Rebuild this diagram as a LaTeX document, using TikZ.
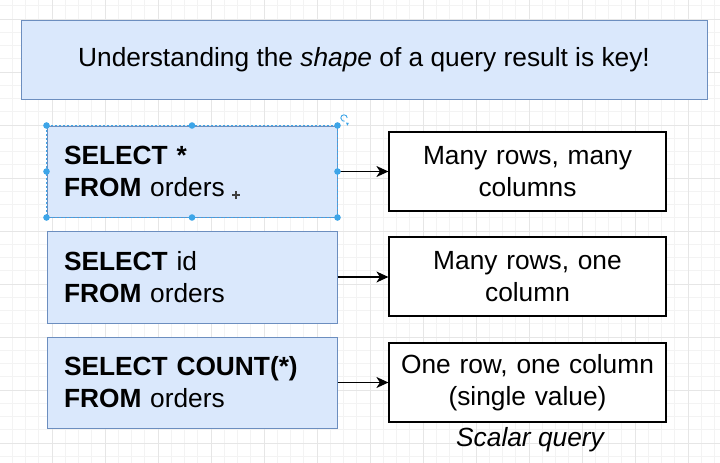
\documentclass[tikz,border=0pt]{standalone}
\usepackage{fontspec}
\setmainfont{Liberation Sans}
\usetikzlibrary{arrows.meta}
\definecolor{boxfill}{HTML}{DAE8FC}
\definecolor{boxline}{HTML}{6C8EBF}
\definecolor{handlecol}{HTML}{3DA5E8}
\definecolor{gridminor}{HTML}{F3F3F3}
\definecolor{gridmajor}{HTML}{E6E6E6}
\tikzset{
  bigtext/.style={font=\fontsize{26.3}{32}\selectfont},
  bluebox/.style={bigtext, draw=boxline, fill=boxfill, line width=1pt, inner sep=0pt},
  sqlbox/.style={bluebox, minimum width=290, minimum height=91, text width=256, inner xsep=17, align=left},
  resbox/.style={bigtext, draw=black, fill=white, line width=1.2pt, minimum width=277, minimum height=79, text width=270, inner xsep=3.5, align=center},
  arr/.style={draw=black, line width=1.2pt, -{Stealth[length=12pt,width=11pt,inset=3.5pt]}},
  handledot/.style={fill=handlecol}
}
\begin{document}
\begin{tikzpicture}[x=1pt,y=-1pt]
\useasboundingbox (0,0) rectangle (720,463);
\fill[white] (0,0) rectangle (720,463);
% grid
\foreach \i in {0,...,55} {
  \draw[gridminor, line width=0.6pt] ({-1+13.25*\i},0) -- ({-1+13.25*\i},463);
}
\foreach \i in {0,...,35} {
  \draw[gridminor, line width=0.6pt] (0,{-7.5+13.25*\i}) -- (720,{-7.5+13.25*\i});
}
\foreach \i in {0,...,14} {
  \draw[gridmajor, line width=0.8pt] ({-1+53*\i},0) -- ({-1+53*\i},463);
}
\foreach \i in {0,...,9} {
  \draw[gridmajor, line width=0.8pt] (0,{19+53*\i}) -- (720,{19+53*\i});
}
% title
\node[bluebox, minimum width=686, minimum height=79, align=center] (title) at (364,59.5)
  {Understanding the \textit{shape} of a query result is key!};
% sql boxes
\node[sqlbox] (s1) at (192,171.5) {\textbf{SELECT *}\\\textbf{FROM} orders};
\node[sqlbox, minimum height=92] (s2) at (192,277) {\textbf{SELECT} id\\\textbf{FROM} orders};
\node[sqlbox] (s3) at (192,382.5) {\textbf{SELECT COUNT(*)}\\\textbf{FROM} orders};
% result boxes
\node[resbox] (r1) at (527.5,171.5) {Many rows, many\\columns};
\node[resbox] (r2) at (527.5,276.5) {Many rows, one\\column};
\node[resbox] (r3) at (527.5,382.5) {One row, one column\\(single value)};
\node[font=\fontsize{26.3}{32}\selectfont\itshape, inner sep=0pt] (sc) at (530,439.5) {Scalar query};
% arrows
\draw[arr] (s1.east) -- (r1.west);
\draw[arr] (s2.east) -- (s2.east -| r2.west);
\draw[arr] (s3.east) -- (r3.west);
% selection handles on first box
\draw[handlecol, line width=0.8pt, dash pattern=on 2pt off 2pt] (s1.north west) rectangle (s1.south east);
\foreach \a in {north west, north, north east, east, south east, south, south west, west} {
  \fill[handledot] (s1.\a) circle (3.3);
}
\coordinate (rot) at (344,118);
\draw[handlecol, line width=0.9pt] ([xshift=3.2pt]rot) arc[start angle=0, end angle=-280, radius=3.2];
\fill[handlecol] ([xshift=2pt,yshift=-4.5pt]rot) -- ++(2.8,0.5) -- ++(-1.5,2.8) -- cycle;
\coordinate (cur) at (236,195);
\draw[black!75, line width=1.6pt] ([xshift=-4pt]cur) -- ([xshift=4pt]cur) ([yshift=-4pt]cur) -- ([yshift=4pt]cur);
\end{tikzpicture}
\end{document}
